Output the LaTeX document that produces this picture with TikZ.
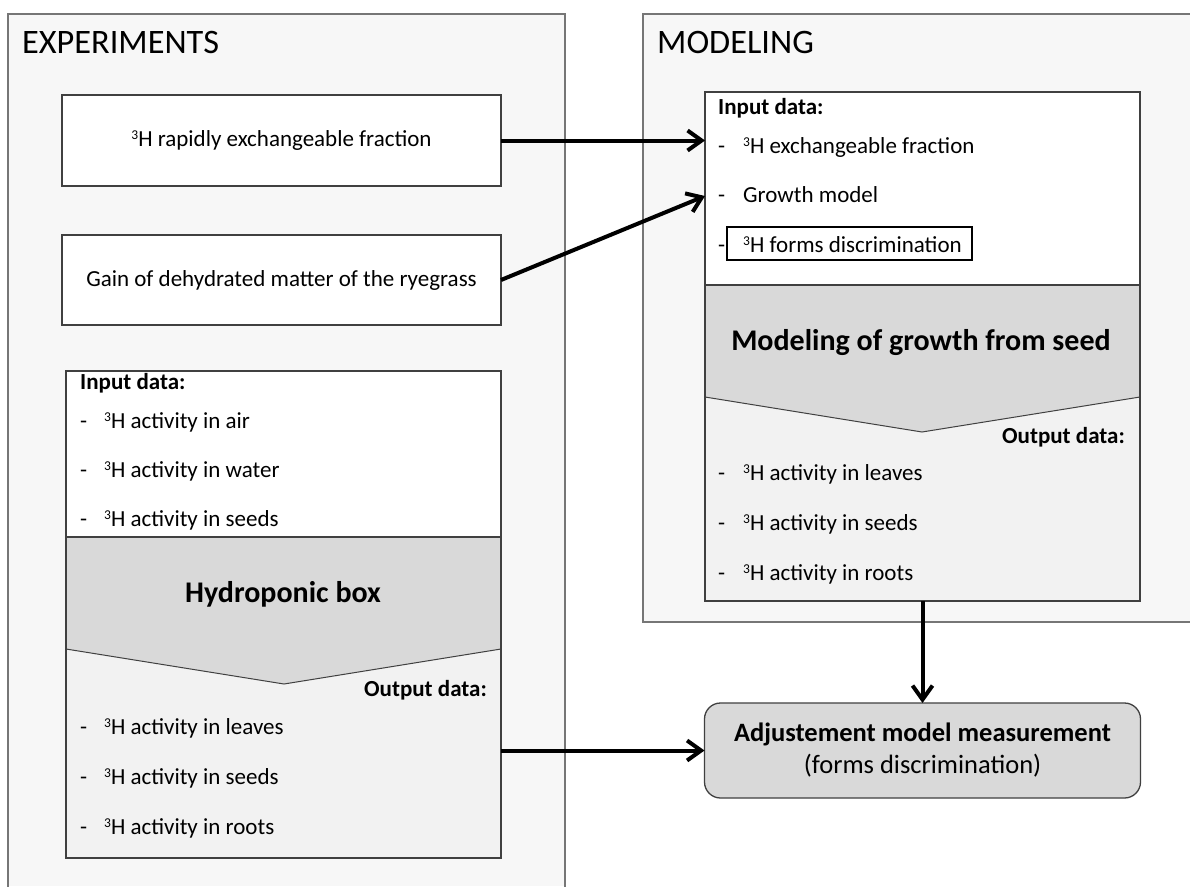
\documentclass[tikz,border=0pt]{standalone}
\usepackage{fontspec}
\setmainfont{Carlito}
\usetikzlibrary{arrows.meta}
\definecolor{outerfill}{RGB}{247,247,247}
\definecolor{outerline}{RGB}{118,118,118}
\definecolor{innerline}{RGB}{64,64,64}
\definecolor{midgrey}{RGB}{217,217,217}
\definecolor{lowgrey}{RGB}{242,242,242}
\newcommand\supthree{\raisebox{7pt}{\fontsize{13.5}{13.5}\selectfont 3}}
\begin{document}
\begin{tikzpicture}[x=1pt,y=-1pt,
  box/.style={draw=innerline, line width=1.3pt, fill=white, inner sep=0pt, outer sep=0pt, font=\fontsize{23}{27}\selectfont},
  frame/.style={draw=innerline, line width=1.3pt, inner sep=0pt, outer sep=0pt},
  txt/.style={inner sep=0pt, anchor=base west, font=\fontsize{23}{27}\selectfont},
  hd/.style={inner sep=0pt, font=\fontsize{23}{27}\selectfont\bfseries},
  bigtitle/.style={inner sep=0pt, anchor=base, font=\fontsize{30}{36}\selectfont\bfseries},
  section/.style={inner sep=0pt, anchor=base west, font=\fontsize{34.3}{40}\selectfont},
  arr/.style={line width=4pt, -{Straight Barb[length=14pt,width=20pt]}},
]
\useasboundingbox (0,0) rectangle (1190,886);
\fill[white] (0,0) rectangle (1190,886);
% outer panels
\fill[outerfill] (8,14) rectangle (565,886);
\draw[outerline, line width=1.5pt] (8,890) -- (8,14) -- (565,14) -- (565,890);
\fill[outerfill] (643,14) rectangle (1190,622);
\draw[outerline, line width=1.5pt] (1195,14) -- (643,14) -- (643,622) -- (1195,622);
\node[section] (exptitle) at (22,53) {EXPERIMENTS};
\node[section] (modtitle) at (657,53) {MODELING};

% left boxes
\node[box, minimum width=439pt, minimum height=91pt] (exch) at (281.5,140.5) {\supthree H rapidly exchangeable fraction};
\node[box, minimum width=439pt, minimum height=90pt] (gain) at (281.5,280) {Gain of dehydrated matter of the ryegrass};

% hydroponic box
\fill[white] (66,371) rectangle (501,537);
\fill[midgrey] (66,537) -- (501,537) -- (501,649) -- (284,684) -- (66,649) -- cycle;
\fill[lowgrey] (66,649) -- (284,684) -- (501,649) -- (501,858) -- (66,858) -- cycle;
\draw[innerline, line width=1.3pt] (66,537) -- (501,537);
\draw[innerline, line width=1pt] (66,649) -- (284,684) -- (501,649);
\node[frame, minimum width=435pt, minimum height=487pt] (hydro) at (283.5,614.5) {};
\node[hd, anchor=base west] (hin) at (80,389) {Input data:};
\node[txt] (hd1) at (80,428) {-};
\node[txt] (hi1) at (104,428) {\supthree H activity in air};
\node[txt] (hd2) at (80,477) {-};
\node[txt] (hi2) at (104,477) {\supthree H activity in water};
\node[txt] (hd3) at (80,526) {-};
\node[txt] (hi3) at (104,526) {\supthree H activity in seeds};
\node[bigtitle] (htitle) at (283,602) {Hydroponic box};
\node[hd, anchor=base east] (hout) at (487,696) {Output data:};
\node[txt] (hd4) at (80,734) {-};
\node[txt] (ho1) at (104,734) {\supthree H activity in leaves};
\node[txt] (hd5) at (80,784) {-};
\node[txt] (ho2) at (104,784) {\supthree H activity in seeds};
\node[txt] (hd6) at (80,834) {-};
\node[txt] (ho3) at (104,834) {\supthree H activity in roots};

% modeling box
\fill[white] (705,92) rectangle (1140,285);
\fill[midgrey] (705,285) -- (1140,285) -- (1140,397) -- (922,432) -- (705,397) -- cycle;
\fill[lowgrey] (705,397) -- (922,432) -- (1140,397) -- (1140,601) -- (705,601) -- cycle;
\draw[innerline, line width=1.3pt] (705,285) -- (1140,285);
\draw[innerline, line width=1pt] (705,397) -- (922,432) -- (1140,397);
\node[frame, minimum width=435pt, minimum height=509pt] (model) at (922.5,346.5) {};
\node[hd, anchor=base west] (min) at (718,114) {Input data:};
\node[txt] (md1) at (718,153) {-};
\node[txt] (mi1) at (743,153) {\supthree H exchangeable fraction};
\node[txt] (md2) at (718,202) {-};
\node[txt] (mi2) at (743,202) {Growth model};
\node[txt] (md3) at (718,252) {-};
\node[draw=black, line width=1.8pt, fill=white, inner sep=0pt, minimum width=245pt, minimum height=33pt] (fbox) at (849.5,243.5) {};
\node[txt] (mi3) at (743,252) {\supthree H forms discrimination};
\node[bigtitle] (mtitle) at (921,350) {Modeling of growth from seed};
\node[hd, anchor=base east] (mout) at (1125,443) {Output data:};
\node[txt] (md4) at (718,480) {-};
\node[txt] (mo1) at (743,480) {\supthree H activity in leaves};
\node[txt] (md5) at (718,530) {-};
\node[txt] (mo2) at (743,530) {\supthree H activity in seeds};
\node[txt] (md6) at (718,580) {-};
\node[txt] (mo3) at (743,580) {\supthree H activity in roots};

% adjustment box
\node[draw=innerline, line width=1.3pt, fill=midgrey, rounded corners=16pt, inner sep=0pt, outer sep=0pt,
      minimum width=436pt, minimum height=95pt, align=center,
      font=\fontsize{26.5}{32}\selectfont] (adj) at (922.5,750.5)
      {{\bfseries Adjustement model measurement}\\(forms discrimination)};

% connectors
\coordinate (gm) at (705,196);
\draw[arr] (exch.east) -- (exch.east -| model.west);
\draw[arr] (gain.east) -- (gm);
\draw[arr] (hydro.east |- adj.west) -- (adj.west);
\draw[arr] (model.south) -- (adj.north);
\end{tikzpicture}
\end{document}
